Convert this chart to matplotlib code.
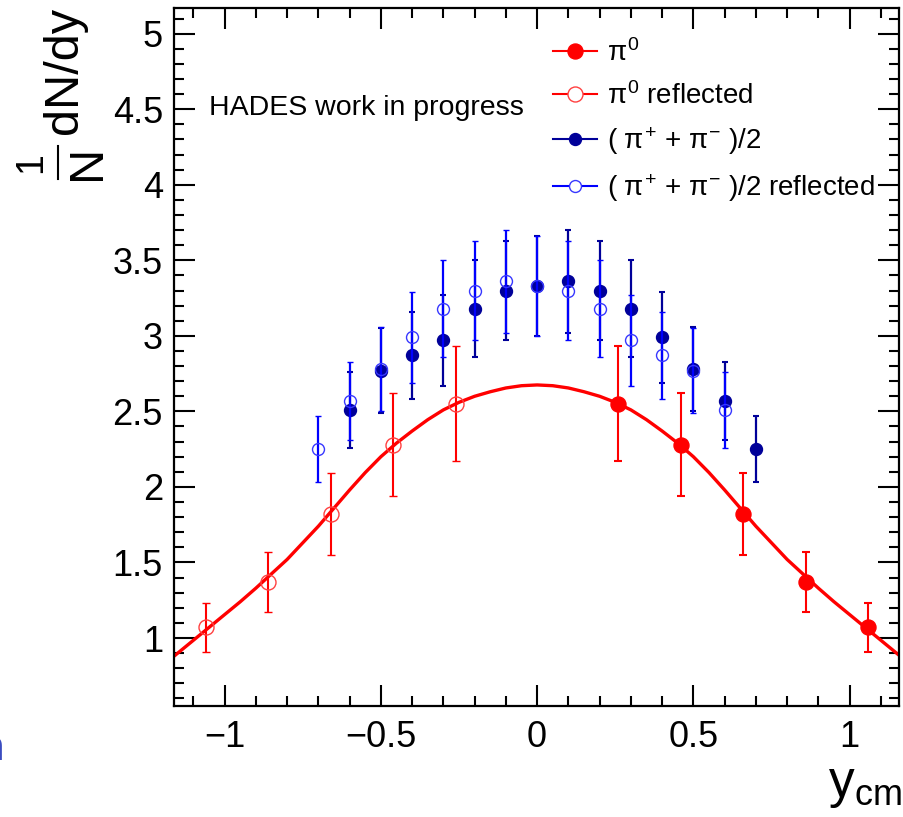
import numpy as np
import matplotlib
matplotlib.use('Agg')
import matplotlib.pyplot as plt
from matplotlib.lines import Line2D
from matplotlib.ticker import MultipleLocator, FuncFormatter

plt.rcParams['font.family'] = ['Liberation Sans', 'DejaVu Sans']
plt.rcParams['mathtext.fontset'] = 'custom'
plt.rcParams['mathtext.rm'] = 'Liberation Sans'
plt.rcParams['mathtext.it'] = 'Liberation Sans'
plt.rcParams['mathtext.sf'] = 'Liberation Sans'

# pi0 measured points (positive rapidity)
pi0_x = [0.26, 0.46, 0.66, 0.86, 1.06]
pi0_y = [2.55, 2.28, 1.82, 1.37, 1.07]
pi0_err = [0.38, 0.34, 0.27, 0.20, 0.16]

# (pi+ + pi-)/2
pich_x = [-0.6, -0.5, -0.4, -0.3, -0.2, -0.1, 0.0, 0.1, 0.2, 0.3, 0.4, 0.5, 0.6, 0.7]
pich_y = [2.51, 2.77, 2.87, 2.97, 3.18, 3.30, 3.33, 3.36, 3.30, 3.18, 2.99, 2.78, 2.57, 2.25]
pich_err = [0.25, 0.28, 0.29, 0.30, 0.32, 0.33, 0.33, 0.34, 0.33, 0.32, 0.30, 0.28, 0.26, 0.22]

# fit curve (symmetric around 0)
fit_x = [0.0, 0.05, 0.1, 0.15, 0.2, 0.25, 0.3, 0.35, 0.4, 0.45, 0.5, 0.55, 0.6,
         0.65, 0.7, 0.75, 0.8, 0.85, 0.9, 0.95, 1.0, 1.05, 1.1, 1.15, 1.2]
fit_y = [2.675, 2.67, 2.655, 2.63, 2.60, 2.56, 2.51, 2.445, 2.37, 2.29, 2.20,
         2.095, 1.98, 1.86, 1.74, 1.63, 1.52, 1.425, 1.33, 1.24, 1.155, 1.07,
         0.985, 0.90, 0.815]

W, H = 904, 817
fig = plt.figure(figsize=(W / 100, H / 100), dpi=100)
ax = fig.add_axes([174 / W, 1 - 706 / H, 725 / W, 698 / H])

RED = '#ff0000'
NAVY = '#000099'
BLUE = '#0000ff'

# fit
fx = np.concatenate([-np.array(fit_x[::-1]), np.array(fit_x[1:])])
fy = np.concatenate([np.array(fit_y[::-1]), np.array(fit_y[1:])])
ax.plot(fx, fy, color=RED, lw=2.4, zorder=2, solid_joinstyle='round')

# charged pions
ax.errorbar(pich_x, pich_y, yerr=pich_err, fmt='o', color=NAVY, ms=8.6,
            elinewidth=1.6, capsize=2.4, capthick=1.5, zorder=3)
ax.errorbar(-np.array(pich_x), pich_y, yerr=pich_err, fmt='o', color=BLUE,
            mfc='none', mec='#3838ff', mew=1.0, ms=8.6,
            elinewidth=1.6, capsize=2.4, capthick=1.5, zorder=4)

# neutral pions
ax.errorbar(pi0_x, pi0_y, yerr=pi0_err, fmt='o', color=RED, ms=10.8,
            elinewidth=1.5, capsize=2.6, capthick=1.5, zorder=5)
ax.errorbar(-np.array(pi0_x), pi0_y, yerr=pi0_err, fmt='o', color=RED,
            mfc='none', mec='#ff4040', mew=1.0, ms=10.8,
            elinewidth=1.5, capsize=2.6, capthick=1.5, zorder=5)

ax.set_xlim(-1.162, 1.158)
ax.set_ylim(0.55, 5.17)
ax.xaxis.set_major_locator(MultipleLocator(0.5))
ax.xaxis.set_minor_locator(MultipleLocator(0.1))
ax.yaxis.set_major_locator(MultipleLocator(0.5))
ax.yaxis.set_minor_locator(MultipleLocator(0.1))
ax.xaxis.set_major_formatter(FuncFormatter(
    lambda v, p: ('%g' % v).replace('-', '\u2212')))
ax.yaxis.set_major_formatter(FuncFormatter(lambda v, p: '%g' % v))
ax.tick_params(which='both', direction='in', top=True, right=True, width=1.5,
               labelsize=26)
ax.tick_params(which='major', length=15)
ax.tick_params(which='minor', length=7.5)
ax.tick_params(axis='x', pad=10)
ax.tick_params(axis='y', pad=8)
for s in ax.spines.values():
    s.set_linewidth(1.6)

ax.text(0.048, 0.847, 'HADES work in progress', transform=ax.transAxes,
        fontsize=20.5, va='baseline')

handles = [
    Line2D([], [], color=RED, lw=1.5, marker='o', ms=10.8, mfc=RED, mec=RED),
    Line2D([], [], color=RED, lw=1.5, marker='o', ms=10.8, mfc='white', mec='#ff4040', mew=1.0),
    Line2D([], [], color=NAVY, lw=1.5, marker='o', ms=8.6, mfc=NAVY, mec=NAVY),
    Line2D([], [], color=BLUE, lw=1.5, marker='o', ms=8.6, mfc='white', mec='#3838ff', mew=1.0),
]
labels = [r'$\pi^{0}$', r'$\pi^{0}$ reflected', r'( $\pi^{+}$ + $\pi^{-}$ )/2',
          r'( $\pi^{+}$ + $\pi^{-}$ )/2 reflected']
ax.legend(handles, labels, loc='upper left',
          bbox_to_anchor=((553 - 174) / 725, (706 - 39) / 698),
          frameon=False, fontsize=20, handlelength=1.58, handletextpad=0.36,
          borderpad=0, borderaxespad=0, labelspacing=0.55)

# y axis title: 1/N dN/dy
fig.text(77 / W, 1 - 7 / H, 'dN/dy', rotation=90, rotation_mode='anchor',
         ha='right', va='baseline', fontsize=35)
fig.text(100 / W, 1 - 162.5 / H, 'N', rotation=90, rotation_mode='anchor',
         ha='center', va='baseline', fontsize=35)
fig.text(41 / W, 1 - 162.5 / H, '1', rotation=90, rotation_mode='anchor',
         ha='center', va='baseline', fontsize=27)
fig.add_artist(Line2D([58 / W, 58 / W], [1 - 146 / H, 1 - 179 / H],
                      color='black', lw=1.5, transform=fig.transFigure))

# x axis title
fig.text(902 / W, 1 - 797 / H, r'$\mathrm{y}_{\mathrm{cm}}$', ha='right',
         va='baseline', fontsize=37)

# cut-off text at the left border, as in the source image
fig.text(4 / W, 1 - 760 / H, 'n', ha='right', va='baseline', fontsize=30,
         color='#3b4cc0', fontweight='bold')

fig.savefig('out.png', dpi=100)
